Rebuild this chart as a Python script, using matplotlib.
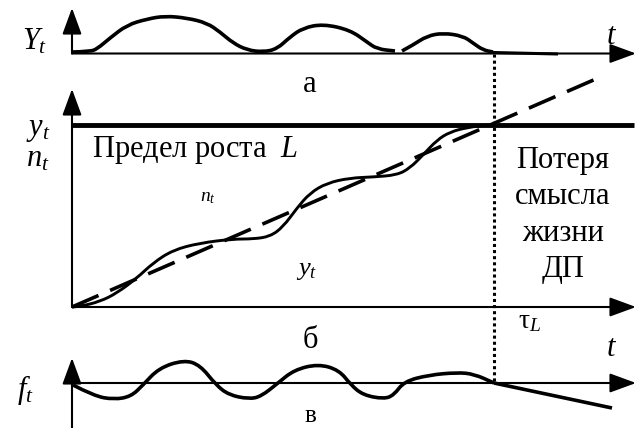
"""Schematic: output Y_t, growth y_t / n_t toward limit L, and f_t (three panels)."""

import matplotlib
matplotlib.use("Agg")
import matplotlib.pyplot as plt
from matplotlib.path import Path
from matplotlib.patches import PathPatch

plt.rcParams["font.family"] = ["Liberation Serif", "DejaVu Serif"]
plt.rcParams["mathtext.fontset"] = "custom"
plt.rcParams["mathtext.rm"] = "Liberation Serif"
plt.rcParams["mathtext.it"] = "Liberation Serif:italic"

# panel a: Y_t (two pieces, broken near x=398)
ya_x1 = [73, 90, 97, 110, 127, 147, 165, 187, 207, 220, 233, 247, 263, 277, 290, 303, 323, 350, 367, 377, 395]
ya_y1 = [52, 51.5, 49, 38, 25, 19, 16, 18, 23, 32, 43, 50, 52, 49, 37, 28, 24, 30, 42, 49, 51]
ya_x2 = [402, 413, 427, 443, 463, 473, 483, 493]
ya_y2 = [51, 45, 36, 33, 36, 43, 50, 52]
ya_tail_x = [493, 558]
ya_tail_y = [52.5, 54]

# panel b: y_t curve and trend n_t
yb_x = [72, 80, 100, 117, 137, 153, 173, 200, 233, 253, 270, 283, 297, 310, 327,
        350, 373, 397, 410, 423, 437, 450, 467, 487, 493]
yb_y = [307, 306.5, 301.5, 293, 278, 263, 250, 243, 239, 239, 236.5, 227, 208, 193, 183,
        178, 177, 175, 168, 155, 140, 132, 127.5, 125, 125]
trend_x = [72, 605]
trend_y = [307, 75]
limit_y = 125

# panel c: f_t
fc_x = [73, 94, 114, 131, 143, 159, 184, 200, 216, 229, 249, 261, 278, 294, 318, 339,
        351, 363, 384, 394, 404, 429, 457, 474, 494]
fc_y = [385, 396, 399.5, 396.5, 385, 368, 360, 365, 385, 395, 399, 396.5, 383, 370, 364, 370,
        385, 395, 399, 395, 381.5, 375, 372.5, 374, 383]
fc_tail_x = [494, 612]
fc_tail_y = [383, 408]

x_axis = 72
x_tip = 636
tau_x = 494

fig = plt.figure(figsize=(6.37, 4.28), dpi=100)
ax = fig.add_axes([0, 0, 1, 1])
ax.set_xlim(0, 637)
ax.set_ylim(428, 0)
ax.axis("off")


def arrow(x0, y0, x1, y1):
    ax.annotate("", xy=(x1, y1), xytext=(x0, y0),
                arrowprops=dict(arrowstyle="-|>,head_length=0.9,head_width=0.33",
                                lw=1.5, color="k", shrinkA=0, shrinkB=0,
                                mutation_scale=18))


def smooth(xs, ys, lw):
    # quadratic bezier through midpoints, the read points act as control points
    pts = list(zip(xs, ys))
    verts = [pts[0]]
    codes = [Path.MOVETO]
    for i in range(1, len(pts) - 1):
        mid = ((pts[i][0] + pts[i + 1][0]) / 2, (pts[i][1] + pts[i + 1][1]) / 2)
        verts += [pts[i], mid]
        codes += [Path.CURVE3, Path.CURVE3]
    verts.append(pts[-1])
    codes.append(Path.LINETO)
    ax.add_patch(PathPatch(Path(verts, codes), fill=False, lw=lw, color="k",
                           capstyle="butt", joinstyle="round"))


# axes
for base, top in [(53.5, 8), (307, 89), (383, 358)]:
    arrow(x_axis, base, x_axis, top)
    arrow(x_axis, base, x_tip, base)
ax.plot([x_axis, x_axis], [383, 428], color="k", lw=1.5)

smooth(ya_x1, ya_y1, 2.6)
smooth(ya_x2, ya_y2, 2.6)
ax.plot(ya_tail_x, ya_tail_y, color="k", lw=2.2, solid_capstyle="butt")

ax.plot([x_axis, 634], [limit_y, limit_y], color="k", lw=3.5, solid_capstyle="butt")
ax.plot(trend_x, trend_y, color="k", lw=2.6, ls=(0, (8, 3.5)), dash_capstyle="butt")
smooth(yb_x, yb_y, 2.1)

smooth(fc_x, fc_y, 2.6)
ax.plot(fc_tail_x, fc_tail_y, color="k", lw=2.6, solid_capstyle="butt")

ax.plot([tau_x, tau_x], [54, 383], color="k", lw=2.2, ls=(0, (1, 1)), dash_capstyle="butt")

# labels
fs = 22
ax.text(35, 42, "$Y_t$", fontsize=fs, ha="center", va="center")
ax.text(612, 36, "$t$", fontsize=fs, ha="center", va="center")
ax.text(310, 84, "а", fontsize=fs, ha="center", va="center")
ax.text(38, 129, "$y_t$", fontsize=fs, ha="center", va="center")
ax.text(38, 159, "$n_t$", fontsize=fs, ha="center", va="center")
ax.text(92, 150, "Предел роста  $L$", fontsize=fs, ha="left", va="center")
ax.text(208, 197, "$n_t$", fontsize=14, ha="center", va="center")
ax.text(307, 271, "$y_t$", fontsize=19, ha="center", va="center")
ax.text(563, 215, "Потеря\nсмысла\nжизни\nДП", fontsize=fs, ha="center", va="center",
        linespacing=1.32)
ax.text(530, 322, "τ$_L$", fontsize=20, ha="center", va="center")
ax.text(310, 341, "б", fontsize=fs, ha="center", va="center")
ax.text(612, 349, "$t$", fontsize=fs, ha="center", va="center")
ax.text(25, 390, "$f_t$", fontsize=fs, ha="center", va="center")
ax.text(310, 416, "в", fontsize=18, ha="center", va="center")

fig.savefig("out.png", dpi=100)
